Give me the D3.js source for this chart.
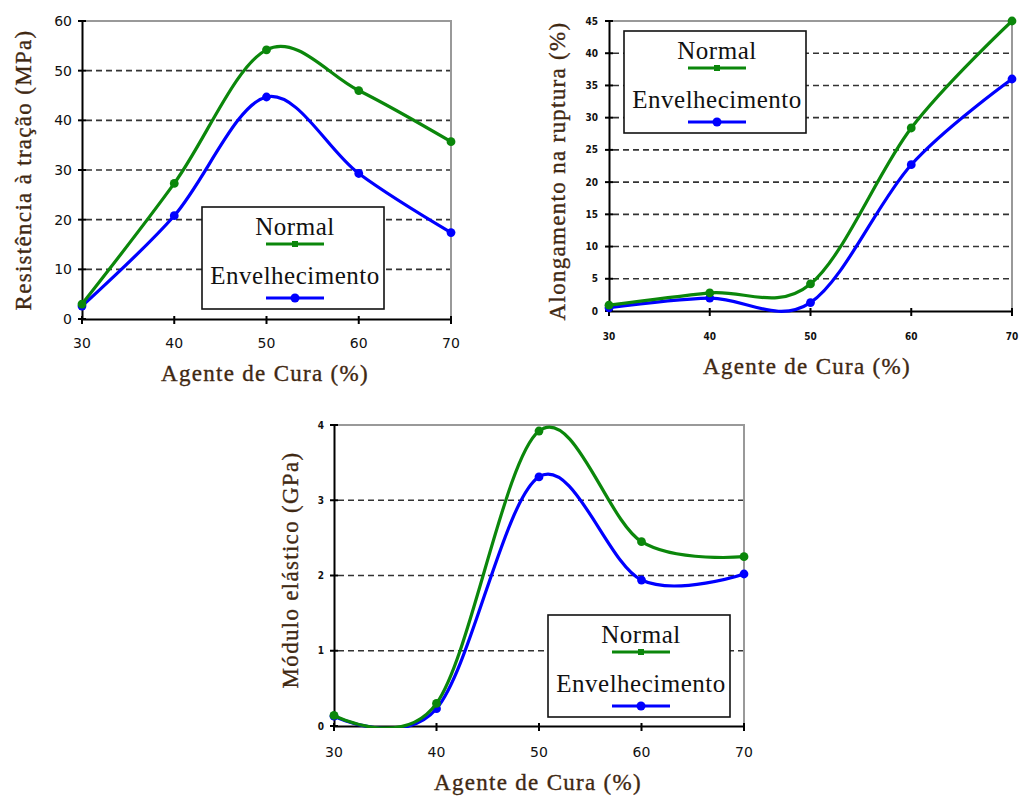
<!DOCTYPE html>
<html>
<head>
<meta charset="utf-8">
<script src="https://cdn.jsdelivr.net/npm/d3@7"></script>
<style>
  body { margin: 0; background: #fff; }
  svg { display: block; }
  .tick-label { fill: #111; }
  .axis-title { font-family: "Liberation Serif", "Times New Roman", serif; fill: #3f2812; stroke: #3f2812; stroke-width: 0.35px; letter-spacing: 1.3px; }
  .legend-text { font-family: "Liberation Serif", "Times New Roman", serif; font-size: 25px; fill: #111; letter-spacing: 0.5px; }
</style>
</head>
<body>
<svg id="fig" width="1019" height="798"></svg>
<script>
// agente de cura (%)
var agente = [30, 40, 50, 60, 70];
var xTicks = [30, 40, 50, 60, 70];

// resistencia a tracao (MPa)
var tracaoNormal = [3, 27.3, 54.2, 46, 35.7];
var tracaoEnvelh = [2.6, 20.8, 44.7, 29.3, 17.4];
var tracaoTicks = [0, 10, 20, 30, 40, 50, 60];

// alongamento na ruptura (%)
var alongNormal = [0.9, 2.8, 4.2, 28.4, 45];
var alongEnvelh = [0.5, 2.0, 1.3, 22.7, 36];
var alongTicks = [0, 5, 10, 15, 20, 25, 30, 35, 40, 45];

// modulo elastico (GPa)
var moduloNormal = [0.14, 0.3, 3.92, 2.45, 2.25];
var moduloEnvelh = [0.13, 0.23, 3.31, 1.94, 2.02];
var moduloTicks = [0, 1, 2, 3, 4];

var seriesNames = ["Normal", "Envelhecimento"];
var seriesColors = ["#0b870b", "#0000ff"];

var svg = d3.select("#fig");

function drawChart(cfg, id) {
  var x = d3.scaleLinear().domain([30, 70]).range([cfg.x0, cfg.x1]);
  var y = d3.scaleLinear().domain([0, cfg.yMax]).range([cfg.y0, cfg.y1]);
  var g = svg.append("g");

  // dashed grid
  g.selectAll(".grid")
    .data(cfg.yTicks.filter(d => d > 0 && d < cfg.yMax))
    .enter().append("line")
      .attr("x1", cfg.x0 + 4).attr("x2", cfg.x1)
      .attr("y1", d => y(d)).attr("y2", d => y(d))
      .attr("stroke", "#333").attr("stroke-width", 1.6)
      .attr("stroke-dasharray", "6,4");

  // gray plot border top / right
  g.append("path")
    .attr("d", "M" + cfg.x0 + "," + cfg.y1 + "H" + cfg.x1 + "V" + cfg.y0)
    .attr("fill", "none").attr("stroke", "#999").attr("stroke-width", 2);

  // axes
  var yAxis = d3.axisLeft(y).tickValues(cfg.yTicks).tickSize(0).tickFormat("");
  var xAxis = d3.axisBottom(x).tickValues(xTicks).tickSize(0).tickFormat("");
  g.append("g").attr("transform", "translate(" + cfg.x0 + ",0)").call(yAxis)
    .select(".domain").attr("stroke", "#000").attr("stroke-width", 2);
  g.append("g").attr("transform", "translate(0," + cfg.y0 + ")").call(xAxis)
    .select(".domain").attr("stroke", "#000").attr("stroke-width", 2);

  // crossing tick marks
  g.selectAll(".ytick").data(cfg.yTicks).enter().append("line")
    .attr("x1", cfg.x0 - 4).attr("x2", cfg.x0 + 4)
    .attr("y1", d => y(d)).attr("y2", d => y(d))
    .attr("stroke", "#000").attr("stroke-width", 2);
  g.selectAll(".xtick").data(xTicks).enter().append("line")
    .attr("x1", d => x(d)).attr("x2", d => x(d))
    .attr("y1", cfg.y0 - 3).attr("y2", cfg.y0 + 5)
    .attr("stroke", "#000").attr("stroke-width", 2);

  // tick labels
  g.selectAll(".ylab").data(cfg.yTicks).enter().append("text")
    .attr("class", "tick-label")
    .attr("x", cfg.yLabX).attr("y", d => y(d))
    .attr("dy", "0.36em")
    .attr("text-anchor", "end")
    .style("font-family", cfg.yFont.family)
    .style("font-size", cfg.yFont.size + "px")
    .style("font-weight", cfg.yFont.weight)
    .text(d => d);
  g.selectAll(".xlab").data(xTicks).enter().append("text")
    .attr("class", "tick-label")
    .attr("x", d => x(d)).attr("y", cfg.xLabY)
    .attr("text-anchor", "middle")
    .style("font-family", cfg.xFont.family)
    .style("font-size", cfg.xFont.size + "px")
    .style("font-weight", cfg.xFont.weight)
    .text(d => d);

  // titles
  g.append("text").attr("class", "axis-title")
    .attr("x", cfg.xTitle[0]).attr("y", cfg.xTitle[1])
    .attr("text-anchor", "middle").style("font-size", "23px")
    .text("Agente de Cura (%)");
  g.append("text").attr("class", "axis-title")
    .attr("transform", "translate(" + cfg.yTitle[0] + "," + cfg.yTitle[1] + ") rotate(-90)")
    .attr("text-anchor", "middle").style("font-size", "23px")
    .text(cfg.yTitleText);

  // clip for curves
  svg.append("clipPath").attr("id", "clip" + id)
    .append("rect")
      .attr("x", cfg.x0).attr("y", cfg.y1)
      .attr("width", cfg.x1 - cfg.x0).attr("height", cfg.y0 - cfg.y1 + 2);

  var line = d3.line()
    .x(d => x(d[0])).y(d => y(d[1]))
    .curve(d3.curveCardinal.tension(0));

  // blue (aged) first so green sits on top, as in the original
  [1, 0].forEach(function(i) {
    var vals = cfg.series[i];
    var pts = agente.map((a, k) => [a, vals[k]]);
    g.append("path")
      .datum(pts)
      .attr("clip-path", "url(#clip" + id + ")")
      .attr("fill", "none")
      .attr("stroke", seriesColors[i])
      .attr("stroke-width", 3.2)
      .attr("stroke-linejoin", "round")
      .attr("d", line);
    g.selectAll(".pt" + i).data(pts).enter().append("circle")
      .attr("cx", d => x(d[0])).attr("cy", d => y(d[1]))
      .attr("r", 4.4)
      .attr("fill", seriesColors[i]);
  });

  // legend
  var lg = g.append("g").attr("transform", "translate(" + cfg.legend[0] + "," + cfg.legend[1] + ")");
  var lw = 182, lh = 102;
  lg.append("rect").attr("width", lw).attr("height", lh)
    .attr("fill", "#fff").attr("stroke", "#111").attr("stroke-width", 1.6);
  seriesNames.forEach(function(name, i) {
    var ty = 28 + i * 49, ly = 37 + i * 54;
    lg.append("text").attr("class", "legend-text")
      .attr("x", lw / 2 + 2).attr("y", ty)
      .attr("text-anchor", "middle").text(name);
    lg.append("line")
      .attr("x1", lw / 2 - 27).attr("x2", lw / 2 + 31)
      .attr("y1", ly).attr("y2", ly)
      .attr("stroke", seriesColors[i]).attr("stroke-width", 3.2);
    if (i === 0) {
      lg.append("rect").attr("x", lw / 2 + 2 - 3).attr("y", ly - 3)
        .attr("width", 6).attr("height", 6).attr("fill", seriesColors[i]);
    } else {
      lg.append("circle").attr("cx", lw / 2 + 2).attr("cy", ly)
        .attr("r", 4.5).attr("fill", seriesColors[i]);
    }
  });
}

var bigFont = { family: "DejaVu Sans", size: 14, weight: "normal" };
var smallFont = { family: "DejaVu Sans Condensed, DejaVu Sans", size: 10, weight: "bold" };

drawChart({
  x0: 82, x1: 451, y0: 319, y1: 21, yMax: 60,
  yTicks: tracaoTicks, series: [tracaoNormal, tracaoEnvelh],
  yLabX: 72, xLabY: 348, yFont: bigFont, xFont: bigFont,
  xTitle: [265, 381], yTitle: [31, 170],
  yTitleText: "Resistência à tração (MPa)",
  legend: [202, 207]
}, 1);

drawChart({
  x0: 609, x1: 1012, y0: 311, y1: 21, yMax: 45,
  yTicks: alongTicks, series: [alongNormal, alongEnvelh],
  yLabX: 598, xLabY: 340, yFont: smallFont, xFont: smallFont,
  xTitle: [807, 374], yTitle: [565, 171],
  yTitleText: "Alongamento na ruptura (%)",
  legend: [624, 31]
}, 2);

drawChart({
  x0: 334, x1: 744, y0: 726, y1: 425, yMax: 4,
  yTicks: moduloTicks, series: [moduloNormal, moduloEnvelh],
  yLabX: 324, xLabY: 757, yFont: smallFont, xFont: bigFont,
  xTitle: [538, 790], yTitle: [298, 570],
  yTitleText: "Módulo elástico (GPa)",
  legend: [548, 615]
}, 3);
</script>
</body>
</html>
